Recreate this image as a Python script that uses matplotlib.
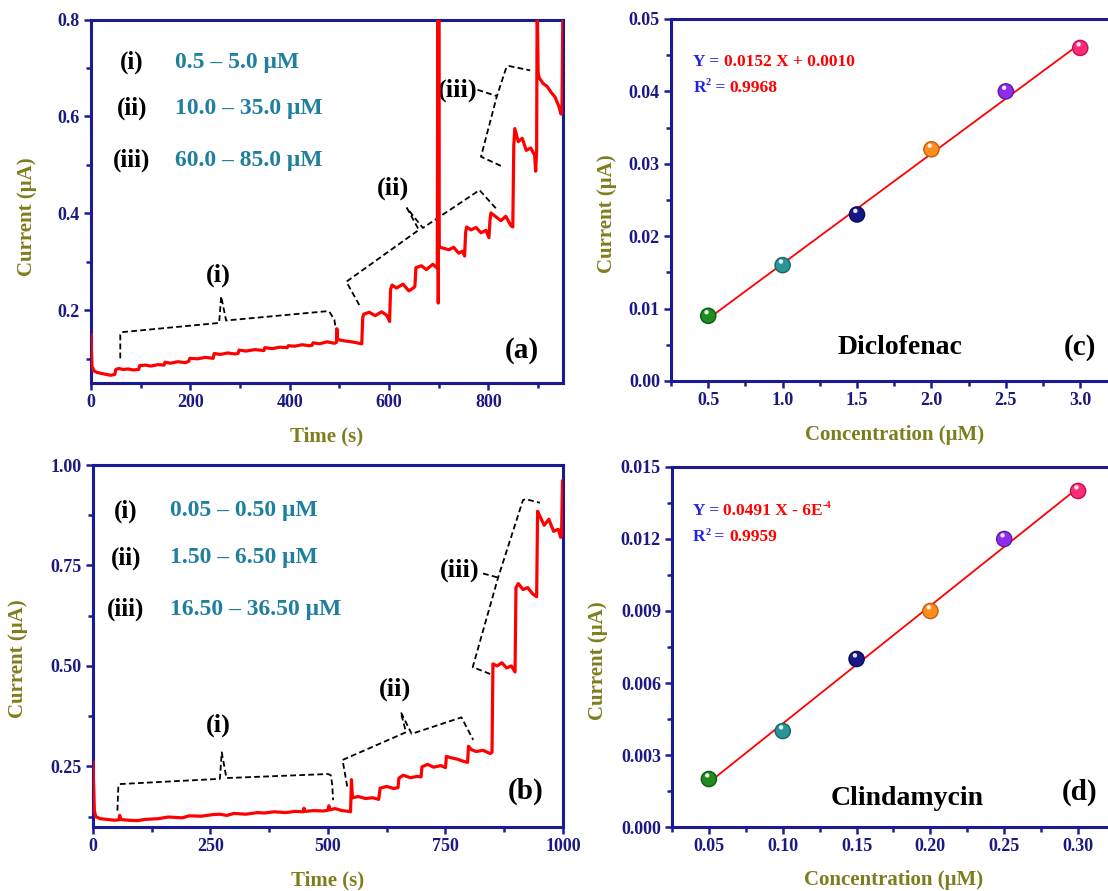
import numpy as np
import matplotlib
matplotlib.use("Agg")
import matplotlib.pyplot as plt
from matplotlib.ticker import MultipleLocator, FormatStrFormatter
from matplotlib.transforms import offset_copy

plt.rcParams['font.family'] = ['Liberation Serif', 'DejaVu Serif']
plt.rcParams['font.weight'] = 'bold'
plt.rcParams['axes.labelweight'] = 'bold'

# ---------------- data ----------------
# (a) amperometric response, diclofenac additions
time_a = [0, 2, 6, 12, 20, 30, 40, 48, 50, 56, 65, 75, 85, 96, 98, 110, 120, 135, 147,
          149, 160, 175, 190, 197, 199, 215, 230, 246, 248, 260, 275, 290, 296, 298, 312,
          330, 348, 350, 365, 380, 395, 397, 410, 425, 440, 445, 447, 460, 475, 490, 494,
          495, 496, 500, 510, 525, 540, 545, 547, 549, 560, 572, 585, 595, 600, 601, 603,
          606, 615, 628, 640, 650, 652, 654, 665, 675, 688, 697, 698, 699, 700, 701, 702,
          710, 720, 730, 740, 748, 752, 754, 756, 765, 775, 785, 795, 801, 803, 805, 815,
          825, 835, 845, 849, 851, 853, 860, 868, 876, 885, 893, 895, 897, 898, 900, 902,
          910, 918, 926, 934, 942, 946, 948, 950]
current_a = [0.150, 0.085, 0.075, 0.072, 0.070, 0.068, 0.066, 0.068, 0.078, 0.080, 0.078,
             0.079, 0.077, 0.078, 0.086, 0.087, 0.085, 0.088, 0.087, 0.093, 0.091, 0.094,
             0.092, 0.095, 0.101, 0.100, 0.103, 0.101, 0.111, 0.109, 0.112, 0.110, 0.111,
             0.118, 0.116, 0.119, 0.117, 0.123, 0.121, 0.124, 0.123, 0.127, 0.126, 0.129,
             0.127, 0.128, 0.133, 0.131, 0.135, 0.132, 0.134, 0.162, 0.140, 0.139, 0.137,
             0.135, 0.132, 0.131, 0.185, 0.192, 0.196, 0.189, 0.197, 0.190, 0.180, 0.177,
             0.243, 0.252, 0.246, 0.254, 0.240, 0.247, 0.250, 0.288, 0.292, 0.284, 0.295,
             0.287, 0.850, 0.215, 0.850, 0.335, 0.330, 0.328, 0.325, 0.330, 0.318, 0.322,
             0.312, 0.360, 0.372, 0.366, 0.371, 0.360, 0.365, 0.350, 0.385, 0.401, 0.393,
             0.385, 0.394, 0.375, 0.372, 0.540, 0.575, 0.548, 0.555, 0.530, 0.535, 0.520,
             0.487, 0.530, 0.850, 0.690, 0.680, 0.668, 0.662, 0.650, 0.640, 0.620, 0.605,
             0.610, 0.850]

# (b) amperometric response, clindamycin additions
time_b = [0, 3, 6, 15, 30, 45, 55, 57, 59, 75, 95, 110, 140, 160, 190, 205, 230, 255, 270,
          285, 300, 325, 350, 365, 385, 410, 430, 447, 449, 451, 470, 490, 500, 502, 504,
          515, 530, 545, 548, 550, 552, 565, 580, 595, 608, 611, 625, 640, 649, 651, 660,
          675, 690, 698, 700, 712, 725, 740, 750, 752, 760, 775, 790, 797, 799, 805, 815,
          830, 845, 849, 851, 860, 870, 880, 890, 898, 900, 905, 915, 925, 935, 944, 946,
          950, 960, 970, 980, 990, 995, 997, 999]
current_b = [0.260, 0.140, 0.125, 0.120, 0.118, 0.116, 0.117, 0.128, 0.118, 0.116, 0.115,
             0.118, 0.120, 0.124, 0.122, 0.127, 0.126, 0.130, 0.131, 0.128, 0.133, 0.131,
             0.135, 0.134, 0.137, 0.135, 0.138, 0.137, 0.146, 0.138, 0.140, 0.139, 0.141,
             0.152, 0.142, 0.145, 0.140, 0.138, 0.137, 0.217, 0.172, 0.175, 0.170, 0.172,
             0.168, 0.196, 0.200, 0.195, 0.197, 0.221, 0.228, 0.222, 0.225, 0.224, 0.249,
             0.255, 0.248, 0.252, 0.247, 0.275, 0.272, 0.268, 0.262, 0.260, 0.300, 0.292,
             0.287, 0.290, 0.282, 0.285, 0.505, 0.500, 0.508, 0.495, 0.500, 0.485, 0.695,
             0.705, 0.690, 0.695, 0.680, 0.672, 0.885, 0.875, 0.850, 0.865, 0.835, 0.840,
             0.820, 0.830, 0.960]

# (c) calibration, diclofenac
conc_c = [0.5, 1.0, 1.5, 2.0, 2.5, 3.0]
current_c = [0.009, 0.016, 0.023, 0.032, 0.040, 0.046]
slope_c, intercept_c, r2_c = 0.0152, 0.0010, 0.9968

# (d) calibration, clindamycin
conc_d = [0.05, 0.10, 0.15, 0.20, 0.25, 0.30]
current_d = [0.002, 0.004, 0.007, 0.009, 0.012, 0.014]
slope_d, intercept_d, r2_d = 0.0491, -0.0006, 0.9959

ranges_a = ["0.5 \u2013 5.0 \u03bcM", "10.0 \u2013 35.0 \u03bcM", "60.0 \u2013 85.0 \u03bcM"]
ranges_b = ["0.05 \u2013 0.50 \u03bcM", "1.50 \u2013 6.50 \u03bcM", "16.50 \u2013 36.50 \u03bcM"]
numerals = ["(i)", "(ii)", "(iii)"]

# ---------------- style ----------------
SPINE = '#1a1a96'
TICK = '#1a1a80'
LABEL = '#7d7d1e'
TEAL = '#1f7f9f'
RED = '#ff0000'
EQ_BLUE = '#2323e6'
BALLS = ['#1e8c1e', '#2b9595', '#17178a', '#ff8c1f', '#8f2bea', '#ff2a78']
BALL_EDGES = ['#0f5a0f', '#1a6666', '#0a0a55', '#c0600a', '#5e1aa0', '#c0104f']

fig = plt.figure(figsize=(11.08, 8.91), dpi=100)
ax_a = fig.add_axes([0.0821, 0.5701, 0.4260, 0.4080])
ax_b = fig.add_axes([0.0839, 0.0722, 0.4242, 0.4059])
ax_c = fig.add_axes([0.6056, 0.5724, 0.4029, 0.4063])
ax_d = fig.add_axes([0.6065, 0.0718, 0.3998, 0.4041])


def style(ax, xmaj, xmin, ymaj, ymin, xfmt, yfmt, xlabel, xl_y, yl_x, yl_y):
    for s in ax.spines.values():
        s.set_color(SPINE)
        s.set_linewidth(2.2)
    ax.xaxis.set_major_locator(MultipleLocator(xmaj))
    ax.xaxis.set_minor_locator(MultipleLocator(xmin))
    ax.yaxis.set_major_locator(MultipleLocator(ymaj))
    ax.yaxis.set_minor_locator(MultipleLocator(ymin))
    ax.xaxis.set_major_formatter(FormatStrFormatter(xfmt))
    ax.yaxis.set_major_formatter(FormatStrFormatter(yfmt))
    ax.tick_params(which='both', direction='out', color=SPINE, labelcolor=TICK,
                   labelsize=13, width=1.8, top=False, right=False)
    ax.tick_params(which='major', length=5, pad=3)
    ax.tick_params(which='minor', length=3.5)
    ax.set_xlabel(xlabel, fontsize=15, color=LABEL, va='center', fontweight='bold')
    ax.set_ylabel("Current (\u03bcA)", fontsize=15, color=LABEL, va='center',
                  fontweight='bold')
    ax.xaxis.set_label_coords(0.5, xl_y)
    ax.yaxis.set_label_coords(yl_x, yl_y)


def bracket(ax, xs, ys):
    ax.plot(xs, ys, color='black', lw=1.3, ls=(0, (3.2, 1.8)), zorder=3)


# ---------------- (a) ----------------
ax_a.plot(time_a, current_a, color=RED, lw=2.3, zorder=4)
ax_a.set_xlim(0, 950)
ax_a.set_ylim(0.05, 0.8)
style(ax_a, 200, 100, 0.2, 0.1, '%d', '%.1f', "Time (s)", -0.146, -0.136, 0.457)

bracket(ax_a, [59, 59, 62, 258, 262, 272, 473, 480, 490, 496],
        [0.101, 0.150, 0.155, 0.174, 0.229, 0.179, 0.198, 0.197, 0.180, 0.139])
bracket(ax_a, [540, 514, 660, 636, 668, 782, 818],
        [0.211, 0.259, 0.366, 0.411, 0.370, 0.448, 0.407])
bracket(ax_a, [825, 785, 817, 836, 842, 884],
        [0.498, 0.517, 0.642, 0.701, 0.704, 0.695])
ax_a.plot([778, 817], [0.655, 0.642], color='black', lw=1.3, ls=(0, (3.2, 1.8)), zorder=3)
ax_a.text(256, 0.272, "(i)", fontsize=19, ha='center', va='center')
ax_a.text(608, 0.452, "(ii)", fontsize=19, ha='center', va='center')
ax_a.text(738, 0.655, "(iii)", fontsize=19, ha='center', va='center')
for i, (n, r) in enumerate(zip(numerals, ranges_a)):
    yy = [0.882, 0.755, 0.613][i]
    ax_a.text(0.087, yy, n, transform=ax_a.transAxes, fontsize=18, ha='center', va='center')
    ax_a.text(0.178, yy, r, transform=ax_a.transAxes, fontsize=17, ha='left', va='center',
              color=TEAL)
ax_a.text(0.913, 0.09, "(a)", transform=ax_a.transAxes, fontsize=21, ha='center', va='center')

# ---------------- (b) ----------------
ax_b.plot(time_b, current_b, color=RED, lw=2.3, zorder=4)
ax_b.set_xlim(0, 1000)
ax_b.set_ylim(0.1, 1.0)
style(ax_b, 250, 125, 0.25, 0.125, '%d', '%.2f', "Time (s)", -0.149, -0.16, 0.465)

bracket(ax_b, [52, 54, 57, 270, 274, 284, 500, 506, 509, 511],
        [0.140, 0.200, 0.206, 0.219, 0.285, 0.221, 0.231, 0.228, 0.205, 0.166])
bracket(ax_b, [541, 531, 666, 655, 678, 784, 809],
        [0.200, 0.266, 0.335, 0.385, 0.331, 0.372, 0.316])
bracket(ax_b, [845, 808, 862, 915, 921, 951],
        [0.480, 0.497, 0.720, 0.913, 0.915, 0.906])
ax_b.plot([830, 862], [0.730, 0.720], color='black', lw=1.3, ls=(0, (3.2, 1.8)), zorder=3)
ax_b.text(266, 0.352, "(i)", fontsize=19, ha='center', va='center')
ax_b.text(643, 0.443, "(ii)", fontsize=19, ha='center', va='center')
ax_b.text(781, 0.738, "(iii)", fontsize=19, ha='center', va='center')
for i, (n, r) in enumerate(zip(numerals, ranges_b)):
    yy = [0.873, 0.743, 0.600][i]
    ax_b.text(0.070, yy, n, transform=ax_b.transAxes, fontsize=18, ha='center', va='center')
    ax_b.text(0.164, yy, r, transform=ax_b.transAxes, fontsize=17, ha='left', va='center',
              color=TEAL)
ax_b.text(0.92, 0.097, "(b)", transform=ax_b.transAxes, fontsize=21, ha='center', va='center')


# ---------------- calibration panels ----------------
def balls(ax, xs, ys):
    ax.scatter(xs, ys, s=120, c=BALLS, edgecolors=BALL_EDGES, linewidths=1.0, zorder=5)
    hl = offset_copy(ax.transData, fig=fig, x=-1.2, y=2.6, units='points')
    ax.scatter(xs, ys, s=10, c='white', edgecolors='none', alpha=0.9, zorder=6,
               transform=hl)


def rich(ax, x, y, pieces, size=12.5):
    first = ax.text(x, y, pieces[0][0], color=pieces[0][1], fontsize=size,
                    ha='left', va='bottom', zorder=7)
    base = first
    prev = first
    for s, col, sup in pieces[1:]:
        if sup:
            t = ax.annotate(s, xy=(1, 0.52), xycoords=prev, fontsize=size * 0.6,
                            color=col, ha='left', va='bottom', zorder=7)
        else:
            t = ax.annotate(s, xy=(1, 0), xycoords=(prev, base), fontsize=size,
                            color=col, ha='left', va='bottom', zorder=7)
        prev = t


# (c)
fit_x_c = np.array([conc_c[0], conc_c[-1]])
ax_c.plot(fit_x_c, slope_c * fit_x_c + intercept_c, color=RED, lw=1.3, zorder=4)
balls(ax_c, conc_c, current_c)
ax_c.set_xlim(0.25, 3.25)
ax_c.set_ylim(0.0, 0.05)
style(ax_c, 0.5, 0.25, 0.01, 0.005, '%.1f', '%.2f', "Concentration (\u03bcM)",
      -0.149, -0.1435, 0.461)
rich(ax_c, 0.40, 0.0430, [("Y = ", EQ_BLUE, False),
                          (f"{slope_c:.4f} X + {intercept_c:.4f}", RED, False)])
rich(ax_c, 0.40, 0.0394, [("R", EQ_BLUE, False), ("2", EQ_BLUE, True),
                          (" = ", EQ_BLUE, False), (f"{r2_c:.4f}", RED, False)])
ax_c.text(1.79, 0.0046, "Diclofenac", fontsize=20, ha='center', va='center')
ax_c.text(3.0, 0.0046, "(c)", fontsize=21, ha='center', va='center')

# (d)
fit_x_d = np.array([conc_d[0], conc_d[-1]])
ax_d.plot(fit_x_d, slope_d * fit_x_d + intercept_d, color=RED, lw=1.3, zorder=4)
balls(ax_d, conc_d, current_d)
ax_d.set_xlim(0.025, 0.325)
ax_d.set_ylim(0.0, 0.015)
style(ax_d, 0.05, 0.025, 0.003, 0.0015, '%.2f', '%.3f', "Concentration (\u03bcM)",
      -0.147, -0.166, 0.461)
rich(ax_d, 0.039, 0.01285, [("Y = ", EQ_BLUE, False),
                            (f"{slope_d:.4f} X - 6E", RED, False), ("-4", RED, True)])
rich(ax_d, 0.039, 0.01175, [("R", EQ_BLUE, False), ("2", EQ_BLUE, True),
                            (" = ", EQ_BLUE, False), (f"{r2_d:.4f}", RED, False)])
ax_d.text(0.184, 0.0012, "Clindamycin", fontsize=20, ha='center', va='center')
ax_d.text(0.301, 0.00146, "(d)", fontsize=21, ha='center', va='center')

fig.savefig("out.png", dpi=100)
